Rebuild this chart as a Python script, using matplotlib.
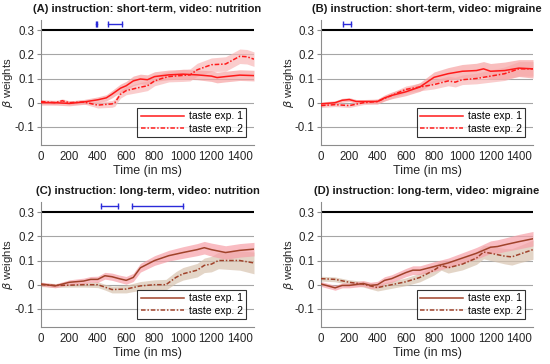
import numpy as np
import matplotlib
matplotlib.use("Agg")
import matplotlib.pyplot as plt

plt.rcParams['font.family'] = ['Liberation Sans', 'DejaVu Sans']

titles = ["(A) instruction: short-term, video: nutrition",
          "(B) instruction: short-term, video: migraine",
          "(C) instruction: long-term, video: nutrition",
          "(D) instruction: long-term, video: migraine"]

# ---- Panel A ----
a1_t = [0, 100, 200, 300, 400, 460, 500, 560, 600, 650, 700, 750, 800, 900, 1000, 1100, 1200, 1240, 1300, 1400, 1500]
a1_v = [0.0, 0.0, -0.003, 0.003, 0.012, 0.02, 0.035, 0.06, 0.07, 0.09, 0.098, 0.095, 0.108, 0.115, 0.118, 0.115, 0.11, 0.104, 0.108, 0.114, 0.112]
a1_e = [0.01, 0.01, 0.01, 0.01, 0.012, 0.013, 0.015, 0.017, 0.018, 0.02, 0.02, 0.02, 0.02, 0.02, 0.02, 0.02, 0.022, 0.022, 0.022, 0.022, 0.022]
a2_t = [0, 100, 150, 200, 300, 360, 400, 500, 520, 560, 600, 700, 750, 800, 850, 900, 1000, 1050, 1100, 1200, 1300, 1400, 1450, 1500]
a2_v = [0.005, 0.0, 0.008, 0.0, 0.003, -0.005, -0.01, -0.005, 0.0, 0.035, 0.05, 0.064, 0.07, 0.09, 0.1, 0.108, 0.113, 0.115, 0.136, 0.157, 0.16, 0.192, 0.19, 0.18]
a2_e = [0.008, 0.008, 0.008, 0.008, 0.008, 0.01, 0.012, 0.014, 0.015, 0.016, 0.017, 0.02, 0.02, 0.02, 0.022, 0.022, 0.025, 0.025, 0.027, 0.028, 0.03, 0.03, 0.03, 0.03]

# ---- Panel B ----
b1_t = [0, 100, 150, 200, 250, 300, 400, 450, 500, 600, 700, 750, 800, 900, 1000, 1100, 1150, 1200, 1300, 1400, 1500]
b1_v = [-0.005, 0.0, 0.01, 0.013, 0.005, 0.005, 0.005, 0.02, 0.03, 0.045, 0.065, 0.085, 0.105, 0.12, 0.13, 0.133, 0.14, 0.13, 0.133, 0.143, 0.14]
b1_e = [0.008, 0.008, 0.008, 0.008, 0.008, 0.008, 0.01, 0.012, 0.014, 0.016, 0.018, 0.02, 0.022, 0.025, 0.028, 0.03, 0.03, 0.032, 0.035, 0.035, 0.038]
b2_t = [0, 100, 200, 300, 400, 500, 600, 700, 800, 900, 950, 1000, 1100, 1200, 1300, 1400, 1500]
b2_v = [-0.012, -0.008, -0.012, 0.0, 0.005, 0.03, 0.055, 0.065, 0.075, 0.09, 0.085, 0.095, 0.1, 0.11, 0.12, 0.14, 0.14]
b2_e = [0.008, 0.008, 0.008, 0.008, 0.01, 0.012, 0.014, 0.016, 0.018, 0.02, 0.02, 0.02, 0.022, 0.025, 0.028, 0.03, 0.03]

# ---- Panel C ----
c1_t = [0, 100, 200, 300, 350, 400, 450, 500, 550, 600, 650, 700, 800, 900, 1000, 1100, 1150, 1200, 1300, 1400, 1500]
c1_v = [0.003, -0.005, 0.01, 0.015, 0.022, 0.022, 0.037, 0.033, 0.025, 0.018, 0.03, 0.07, 0.1, 0.12, 0.133, 0.145, 0.153, 0.145, 0.133, 0.142, 0.147]
c1_e = [0.008, 0.008, 0.01, 0.012, 0.012, 0.013, 0.014, 0.015, 0.015, 0.016, 0.017, 0.018, 0.02, 0.022, 0.024, 0.025, 0.026, 0.027, 0.028, 0.028, 0.028]
c2_t = [0, 100, 200, 300, 400, 450, 500, 600, 700, 800, 880, 950, 1000, 1100, 1150, 1200, 1250, 1300, 1400, 1500]
c2_v = [0.0, -0.003, -0.002, 0.0, 0.0, -0.01, -0.02, -0.018, -0.005, 0.0, 0.0, 0.03, 0.045, 0.06, 0.08, 0.085, 0.1, 0.1, 0.1, 0.09]
c2_e = [0.008, 0.008, 0.008, 0.01, 0.012, 0.012, 0.014, 0.016, 0.018, 0.02, 0.022, 0.024, 0.026, 0.028, 0.03, 0.032, 0.034, 0.036, 0.04, 0.045]

# ---- Panel D ----
d1_t = [0, 100, 150, 200, 300, 350, 400, 450, 500, 600, 650, 700, 800, 900, 1000, 1100, 1200, 1250, 1300, 1400, 1500]
d1_v = [0.003, -0.013, -0.003, -0.003, 0.005, -0.003, 0.0, 0.018, 0.025, 0.05, 0.06, 0.06, 0.075, 0.09, 0.11, 0.13, 0.155, 0.158, 0.165, 0.178, 0.19]
d1_e = [0.01, 0.01, 0.01, 0.01, 0.012, 0.013, 0.014, 0.015, 0.016, 0.017, 0.018, 0.018, 0.02, 0.02, 0.022, 0.024, 0.026, 0.028, 0.028, 0.03, 0.03]
d2_t = [0, 100, 200, 300, 350, 400, 500, 600, 700, 800, 850, 900, 1000, 1100, 1150, 1200, 1300, 1350, 1400, 1500]
d2_v = [0.025, 0.022, 0.01, 0.002, -0.005, -0.012, 0.0, 0.012, 0.03, 0.06, 0.08, 0.07, 0.085, 0.11, 0.135, 0.13, 0.118, 0.115, 0.125, 0.145]
d2_e = [0.01, 0.01, 0.01, 0.012, 0.013, 0.014, 0.015, 0.016, 0.018, 0.02, 0.02, 0.022, 0.024, 0.026, 0.028, 0.03, 0.032, 0.034, 0.035, 0.04]

# significant intervals (start, end) in ms
sig_A = [(385, 395), (470, 573)]
sig_B = [(156, 212)]
sig_C = [(420, 544), (639, 1002)]
sig_D = []

panels = [
    (a1_t, a1_v, a1_e, a2_t, a2_v, a2_e, sig_A, '#ff1a1a', '#f7a3a3', '#f9b8b8'),
    (b1_t, b1_v, b1_e, b2_t, b2_v, b2_e, sig_B, '#ff1a1a', '#f7a3a3', '#f9b8b8'),
    (c1_t, c1_v, c1_e, c2_t, c2_v, c2_e, sig_C, '#a0422a', '#f7a0a8', '#d8c4b0'),
    (d1_t, d1_v, d1_e, d2_t, d2_v, d2_e, sig_D, '#a0422a', '#f7a0a8', '#d8c4b0'),
]

fig = plt.figure(figsize=(5.5, 3.64), dpi=100)
positions = [
    [0.0745, 0.6016, 0.3873, 0.3435],
    [0.5836, 0.6016, 0.3855, 0.3435],
    [0.0745, 0.1016, 0.3873, 0.3435],
    [0.5836, 0.1016, 0.3855, 0.3435],
]

for i, (t1, v1, e1, t2, v2, e2, sig, lc, fc1, fc2) in enumerate(panels):
    ax = fig.add_axes(positions[i])
    t1 = np.array(t1); v1 = np.array(v1); e1 = np.array(e1)
    t2 = np.array(t2); v2 = np.array(v2); e2 = np.array(e2)
    for y in [-0.1, 0, 0.1, 0.2]:
        ax.axhline(y, color='#a6a6a6', lw=0.8, zorder=1)
    ax.axhline(0.3, color='black', lw=1.5, zorder=1)
    ax.fill_between(t2, v2 - e2, v2 + e2, color=fc2, alpha=0.7, lw=0, zorder=2)
    ax.fill_between(t1, v1 - e1, v1 + e1, color=fc1, alpha=0.7, lw=0, zorder=2)
    ax.plot(t1, v1, color=lc, lw=1.1, ls='-', label='taste exp. 1', zorder=3)
    ax.plot(t2, v2, color=lc, lw=1.1, ls=(0, (3, 1.2, 1, 1.2)), label='taste exp. 2', zorder=3)
    for (s, e) in sig:
        ax.plot([s, e], [0.325, 0.325], color='#2b2bd9', lw=1.0,
                marker='|', markersize=4, markeredgewidth=1.0, zorder=4)
    ax.set_xlim(0, 1500)
    ax.set_ylim(-0.175, 0.342)
    ax.set_xticks(range(0, 1401, 200))
    ax.set_yticks([-0.1, 0, 0.1, 0.2, 0.3])
    ax.set_yticklabels(['-0.1', '0', '0.1', '0.2', '0.3'])
    for s in ['top', 'right']:
        ax.spines[s].set_visible(False)
    for s in ['left', 'bottom']:
        ax.spines[s].set_color('#8c8c8c')
        ax.spines[s].set_linewidth(0.8)
    ax.tick_params(labelsize=8.3, colors='#8c8c8c', labelcolor='#262626',
                   length=3, width=0.8)
    ax.tick_params(axis='x', pad=4, length=0)
    ax.tick_params(axis='y', pad=2)
    ax.set_xlabel('Time (in ms)', fontsize=9, color='#262626', labelpad=2)
    ax.set_ylabel(r'$\beta$ weights', fontsize=8.2, color='#262626')
    ax.yaxis.set_label_coords(-0.12, 0.5)
    ax.set_title(titles[i], fontsize=8.1, fontweight='bold', pad=6, color='#1a1a1a')
    leg = ax.legend(loc='lower right', fontsize=7.5, frameon=True, fancybox=False,
                    edgecolor='black', handlelength=4.2, borderaxespad=0.8,
                    labelspacing=0.2, borderpad=0.3, handletextpad=0.4)
    leg.get_frame().set_linewidth(0.8)

fig.savefig('out.png', dpi=100)
